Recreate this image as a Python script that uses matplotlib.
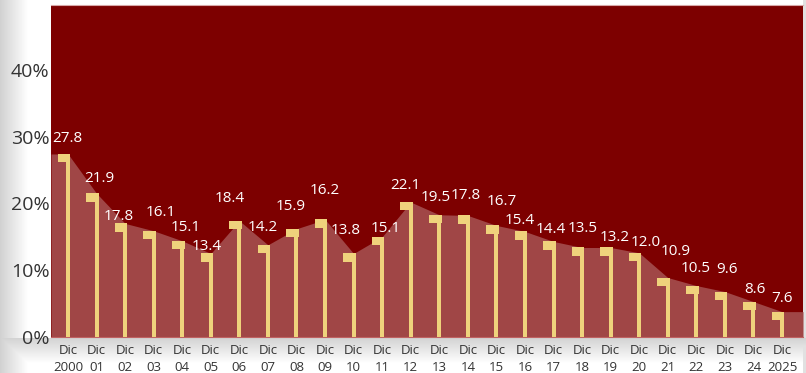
import matplotlib.pyplot as plt
import numpy as np

# data
years = ["2000", "01", "02", "03", "04", "05", "06", "07", "08", "09", "10", "11", "12",
         "13", "14", "15", "16", "17", "18", "19", "20", "21", "22", "23", "24", "2025"]
label_pct = [27.8, 21.9, 17.8, 16.1, 15.1, 13.4, 18.4, 14.2, 15.9, 16.2, 13.8, 15.1, 22.1,
             19.5, 17.8, 16.7, 15.4, 14.4, 13.5, 13.2, 12.0, 10.9, 10.5, 9.6, 8.6, 7.6]
# height at which each marker / the shaded area is actually drawn in the picture
drawn_level = [27.4, 21.5, 17.0, 15.9, 14.4, 12.5, 17.4, 13.8, 16.2, 17.6, 12.5, 15.0, 20.2,
               18.3, 18.2, 16.7, 15.8, 14.3, 13.4, 13.4, 12.6, 8.9, 7.7, 6.8, 5.3, 3.8]
yticks = [0, 10, 20, 30, 40]

# hand placement of the value labels (pixels, relative to flag top)
label_dx = [-1, 3, -6, 7, 3, -4, -10, -5, -6, 0, -8, 4, -5, -4, -2, 5, -5, -3, 1, 4, 7, 8, -1, 2, 1, 0]
label_dy = [15, 15, 7, 18, 13, 7, 22, 17, 22, 29, 23, 8, 17, 17, 20, 24, 11, 12, 19, 10, 10, 26, 17, 22, 12, 13]

BG_RED = "#7d0000"
AREA = "#a04646"
GOLD = "#efd27c"
W, H = 806, 373

fig = plt.figure(figsize=(W / 100, H / 100), dpi=100)
plt.rcParams['font.family'] = ['Open Sans', 'DejaVu Sans']

# soft grey shadows around the panel
bg = fig.add_axes([0, 0, 1, 1], zorder=-5)
xx = np.arange(W)[None, :]
yy = np.arange(H)[:, None]
left = np.clip(xx / 28.0, 0, 1) * 0.18 + 0.82
bottom = np.where(yy > 337, np.clip((yy - 337) / 26.0, 0, 1) * 0.18 + 0.82, 1.0)
right = np.where(xx > 802, 0.88, 1.0)
img = np.minimum(np.minimum(left, bottom), right)
bg.imshow(img, cmap="gray", vmin=0, vmax=1, aspect="auto", extent=(0, W, H, 0))
bg.axis("off")

ax = fig.add_axes([51 / W, 36 / H, 752 / W, 332 / H])
ax.set_facecolor(BG_RED)
x = np.arange(len(years))
x0, x1 = -0.595, 25.735
ax.set_xlim(x0, x1)
ax.set_ylim(0, 49.7)

lvl = np.array(drawn_level)
ax.fill_between(np.r_[x0, x, x1], np.r_[lvl[0], lvl, lvl[-1]], 0,
                color=AREA, lw=0, zorder=1)

# stems and little flags
ax.bar(x, lvl, width=0.14, color=GOLD, zorder=3)
ax.bar(x - 0.14, 1.25, bottom=lvl - 1.25, width=0.44, color=GOLD, zorder=3)

for xi, lv, v, dx, dy in zip(x, lvl, label_pct, label_dx, label_dy):
    ax.annotate(f"{v:.1f}", (xi, lv), xytext=(dx * 0.72, dy * 0.72),
                textcoords="offset points", ha="center", va="center",
                color="white", fontsize=11, zorder=4)

ax.set_yticks(yticks)
ax.set_yticklabels([f"{t}%" for t in yticks], fontsize=14, color="#333333")
ax.set_xticks(x)
ax.set_xticklabels([f"Dic\n{y}" for y in years], fontsize=9.5, color="#333333",
                   linespacing=1.45)
ax.tick_params(axis="y", length=0, pad=1)
ax.tick_params(axis="x", length=0, pad=5)
for s in ["left", "right"]:
    ax.spines[s].set_visible(False)
ax.spines["top"].set_color("#d8a8a8")
ax.spines["bottom"].set_color("#c06262")

fig.savefig("out.png", dpi=100)
